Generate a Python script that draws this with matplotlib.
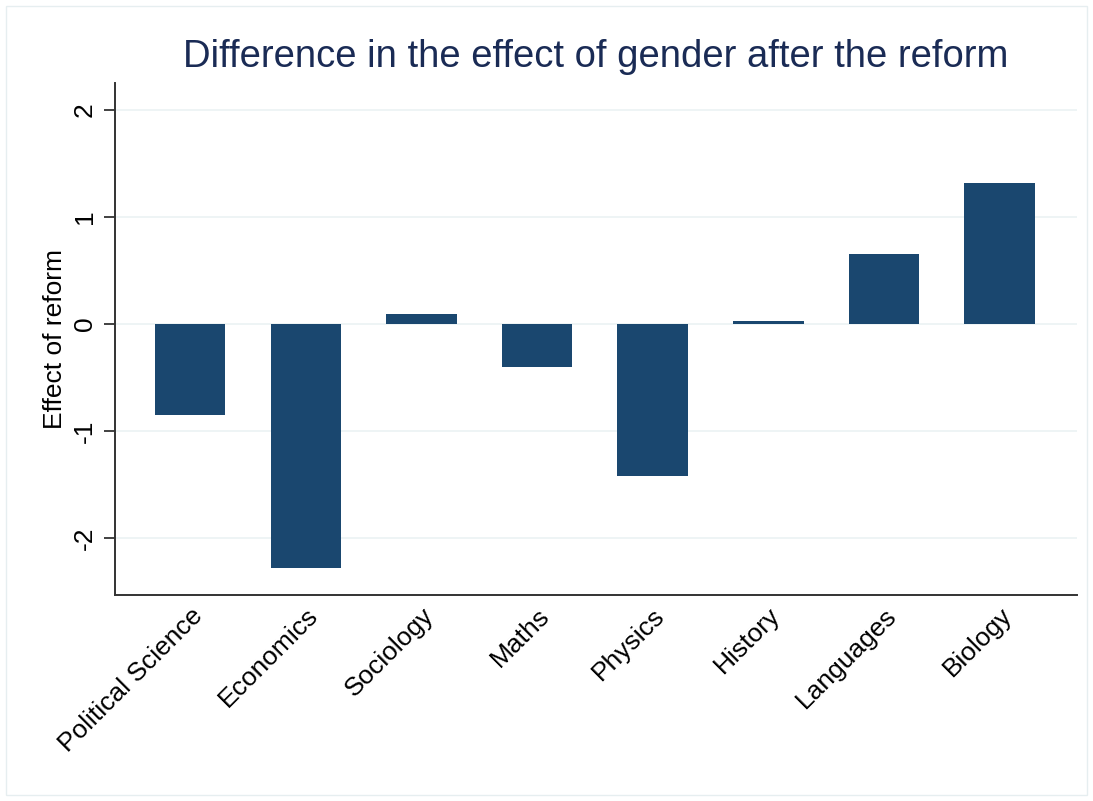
import matplotlib
matplotlib.use('Agg')
import matplotlib.pyplot as plt
from matplotlib.patches import Rectangle

plt.rcParams['font.family'] = ['Liberation Sans', 'DejaVu Sans']

subjects = ['Political Science', 'Economics', 'Sociology', 'Maths',
            'Physics', 'History', 'Languages', 'Biology']
effects = [-0.85, -2.28, 0.09, -0.40, -1.42, 0.03, 0.65, 1.32]
yticks = [-2, -1, 0, 1, 2]

fig = plt.figure(figsize=(10.93, 8.01), dpi=100)
fig.patches.append(Rectangle((6/1093, 6/801), 1 - 12/1093, 1 - 12/801,
                             transform=fig.transFigure, fill=False,
                             edgecolor='#e6eef0', lw=1))
ax = fig.add_axes([115/1093, 1 - 595/801, (1077 - 115)/1093, (595 - 83)/801])

x = range(len(subjects))
ax.bar(x, effects, width=0.61, color='#1a476f', zorder=3)

ax.set_xlim(-0.65, 7.67)
ax.set_ylim(-2.53, 2.25)
ax.set_yticks(yticks)
ax.set_yticklabels([str(t) for t in yticks], rotation=90, va='center', fontsize=19)
ax.set_xticks(list(x))
ax.set_xticklabels(subjects, rotation=45, ha='right', rotation_mode='anchor', fontsize=19)
ax.tick_params(axis='x', length=0, pad=6)
ax.tick_params(axis='y', length=8, width=1.3, color='#333333', pad=5)
ax.grid(axis='y', color='#edf3f5', lw=1.3, zorder=0)
for s in ['top', 'right']:
    ax.spines[s].set_visible(False)
for s in ['left', 'bottom']:
    ax.spines[s].set_color('#333333')
    ax.spines[s].set_linewidth(1.4)

ax.set_ylabel('Effect of reform', fontsize=19, labelpad=4)
fig.text(596/1093, 1 - 57/801, 'Difference in the effect of gender after the reform',
         ha='center', va='center', fontsize=27.5, color='#1a2b55')

fig.savefig('out.png', dpi=100, facecolor='white')
